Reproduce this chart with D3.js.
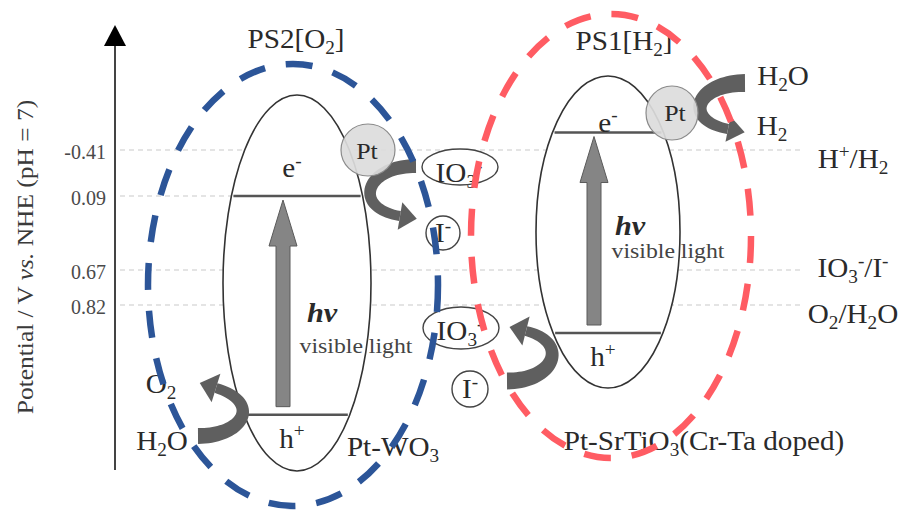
<!DOCTYPE html>
<html><head><meta charset="utf-8">
<script src="https://cdn.jsdelivr.net/npm/d3@7"></script>
<style>html,body{margin:0;padding:0;background:#fff;} svg{display:block;}</style>
</head><body>
<svg id="chart" width="903" height="514"></svg>
<script>
// ---------- data ----------
const potentialTicks = [-0.41, 0.09, 0.67, 0.82];
const tickLabels = ["-0.41", "0.09", "0.67", "0.82"];
const redoxLabels = ["H^{+}/H_{2}", "IO_{3}^{-}/I^{-}", "O_{2}/H_{2}O"];
const redoxPotentials = [-0.41, 0.67, 0.82];
const photosystemNames = ["PS2[O_{2}]", "PS1[H_{2}]"];
const catalystNames = ["Pt-WO_{3}", "Pt-SrTiO_{3}(Cr-Ta doped)"];
const conductionBand = [0.09, -0.60];
const valenceBand = [1.29, 0.94];
const mediatorLabels = ["IO_{3}^{-}", "I^{-}", "IO_{3}^{-}", "I^{-}"];
const reactionLabels = ["O_{2}", "H_{2}O", "H_{2}O", "H_{2}"];
const axisTitle = "Potential / V *vs.* NHE (pH = 7)";

// ---------- setup ----------
const svg = d3.select("#chart");
const FONT = "'Liberation Serif','Times New Roman',serif";
const SX = 1.08;
const y = d3.scaleLinear().domain(potentialTicks).range([150, 196, 270, 305]);

function rich(t, str, fs) {
  const re = /(_\{[^}]*\}|\^\{[^}]*\}|\*[^*]*\*)/g;
  const parts = str.split(re).filter(s => s && s.length);
  let cur = 0;
  parts.forEach(p => {
    let kind = 0, txt = p, ital = false;
    if (p.startsWith("_{")) { kind = 1; txt = p.slice(2, -1); }
    else if (p.startsWith("^{")) { kind = 2; txt = p.slice(2, -1); }
    else if (p.startsWith("*")) { ital = true; txt = p.slice(1, -1); }
    const target = kind === 1 ? 0.22 * fs : kind === 2 ? -0.38 * fs : 0;
    const ts = t.append("tspan").text(txt).attr("dy", target - cur);
    if (kind) ts.style("font-size", (0.66 * fs) + "px");
    if (ital) ts.style("font-style", "italic");
    cur = target;
  });
}
function label(g, px, py, str, fs, o = {}) {
  const t = g.append("text")
    .attr("transform", `translate(${px},${py}) ${o.rot ? "rotate(" + o.rot + ")" : ""} scale(${o.sx || SX},1)`)
    .attr("text-anchor", o.anchor || "middle")
    .style("font-family", FONT).style("font-size", fs + "px")
    .attr("fill", o.color || "#2a2a2a");
  if (o.italic) t.style("font-style", "italic");
  if (o.bold) t.style("font-weight", "bold");
  rich(t, str, fs);
  return t;
}
function bez(p0, c1, c2, p3, t) {
  const u = 1 - t;
  return [u*u*u*p0[0] + 3*u*u*t*c1[0] + 3*u*t*t*c2[0] + t*t*t*p3[0],
          u*u*u*p0[1] + 3*u*u*t*c1[1] + 3*u*t*t*c2[1] + t*t*t*p3[1]];
}
function curvedArrow(g, p0, c1, c2, p3, w0, w1, headLen, headW, color) {
  const N = 40, L = [], R = [];
  for (let i = 0; i <= N; i++) {
    const t = i / N;
    const a = bez(p0, c1, c2, p3, Math.max(0, t - 0.01)), b = bez(p0, c1, c2, p3, Math.min(1, t + 0.01));
    let dx = b[0] - a[0], dy = b[1] - a[1]; const l = Math.hypot(dx, dy); dx /= l; dy /= l;
    const p = bez(p0, c1, c2, p3, t), w = (w0 + (w1 - w0) * t) / 2;
    L.push([p[0] - dy * w, p[1] + dx * w]); R.push([p[0] + dy * w, p[1] - dx * w]);
  }
  const pts = L.concat(R.reverse());
  g.append("path").attr("d", d3.line()(pts) + "Z").attr("fill", color);
  let dx = p3[0] - c2[0], dy = p3[1] - c2[1]; const l = Math.hypot(dx, dy); dx /= l; dy /= l;
  const tip = [p3[0] + dx * headLen, p3[1] + dy * headLen];
  const b1 = [p3[0] - dy * headW / 2, p3[1] + dx * headW / 2];
  const b2 = [p3[0] + dy * headW / 2, p3[1] - dx * headW / 2];
  g.append("path").attr("d", d3.line()([b1, tip, b2]) + "Z").attr("fill", color);
}

// ---------- layout (positions only) ----------
const layout = [
  { cx: 297, cy: 283, rx: 74, ry: 188, title: [296, 48], cat: [393, 456], eDx: -5, eDy: -19,
    hv: [322, 322], vis: [356, 353], pt: [368, 150, 27, 26], ptTxt: [367, 159],
    ring: { cx: 293, cy: 285, rx: 145, ry: 221, color: "#2c5598" } },
  { cx: 608, cy: 232, rx: 72, ry: 156, title: [624, 50], cat: [704, 450], eDx: 0, eDy: -1,
    hv: [630, 235], vis: [668, 258], pt: [672, 113, 26, 27], ptTxt: [675, 121],
    ring: { cx: 611, cy: 236, rx: 140, ry: 222, color: "#ff5c63" } }
];
const chord = (ps, yy) => { const d = (yy - ps.cy) / ps.ry; return ps.rx * Math.sqrt(Math.max(0, 1 - d * d)); };

// ---------- gridlines ----------
const grid = svg.append("g");
potentialTicks.forEach((v, i) => {
  grid.append("line").attr("x1", 120).attr("x2", i === 1 ? layout[0].cx : 800)
    .attr("y1", y(v)).attr("y2", y(v))
    .attr("stroke", "#c9c9c9").attr("stroke-width", 1).attr("stroke-dasharray", "5,4");
});

// ---------- axis ----------
const axisG = svg.append("g").attr("transform", "translate(115,0)")
  .call(d3.axisLeft(y).tickValues(potentialTicks).tickFormat((d, i) => tickLabels[i]).tickSize(0).tickPadding(9));
axisG.select(".domain").remove();
axisG.selectAll("text").style("font-family", FONT).style("font-size", "20px").attr("fill", "#4a4a4a").attr("dy", "0.42em");
svg.append("line").attr("x1", 115).attr("x2", 115).attr("y1", 44).attr("y2", 470).attr("stroke", "#444").attr("stroke-width", 2);
svg.append("path").attr("d", "M115,25L104,46L126,46Z").attr("fill", "#000");
label(svg, 33, 257, axisTitle, 24, { rot: -90, sx: 1.06, color: "#3a3a3a" });

// ---------- redox labels ----------
const redoxDy = [18, 7, 18];
redoxLabels.forEach((s, i) => label(svg, 853, y(redoxPotentials[i]) + redoxDy[i], s, 27));

// ---------- photosystems ----------
layout.forEach((ps, i) => {
  const g = svg.append("g");
  g.append("ellipse").attr("cx", ps.cx).attr("cy", ps.cy).attr("rx", ps.rx).attr("ry", ps.ry)
    .attr("fill", "#fff").attr("stroke", "#333").attr("stroke-width", 1.6);
  const yc = y(conductionBand[i]), yv = y(valenceBand[i]);
  [yc, yv].forEach(yy => {
    const h = chord(ps, yy) - 2;
    g.append("line").attr("x1", ps.cx - h).attr("x2", ps.cx + h).attr("y1", yy).attr("y2", yy)
      .attr("stroke", "#555").attr("stroke-width", 2.5);
  });
  const ax = ps.cx - 14, tip = yc + 4, headB = tip + 46, bot = yv - 8;
  g.append("path").attr("d", `M${ax},${tip}L${ax - 14},${headB}L${ax - 7},${headB}L${ax - 7},${bot}L${ax + 7},${bot}L${ax + 7},${headB}L${ax + 14},${headB}Z`)
    .attr("fill", "#858585").attr("stroke", "#5a5a5a").attr("stroke-width", 1);
  label(g, ps.cx + ps.eDx, yc + ps.eDy, "e^{-}", 27);
  label(g, ps.cx - 5, yv + 33, "h^{+}", 27);
  label(g, ps.hv[0], ps.hv[1], "hν", 28, { italic: true, bold: true });
  label(g, ps.vis[0], ps.vis[1], "visible light", 22, { color: "#444" });
  label(svg, ps.title[0], ps.title[1], photosystemNames[i], 27);
  label(svg, ps.cat[0], ps.cat[1], catalystNames[i], 27);
});

// ---------- curved arrows ----------
const ARC = "#5f5f5f";
curvedArrow(svg, [416, 166], [365, 166], [352, 208], [400, 216], 14, 10, 17, 28, ARC);
curvedArrow(svg, [198, 436], [244, 436], [262, 402], [216, 388], 16, 10, 17, 30, ARC);
curvedArrow(svg, [507, 381], [555, 381], [570, 342], [526, 331], 17, 10, 17, 30, ARC);
curvedArrow(svg, [745, 83], [696, 83], [682, 120], [728, 129], 18, 10, 17, 26, ARC);

// ---------- Pt co-catalysts ----------
layout.forEach(ps => {
  svg.append("ellipse").attr("cx", ps.pt[0]).attr("cy", ps.pt[1]).attr("rx", ps.pt[2]).attr("ry", ps.pt[3])
    .attr("fill", "#dcdcdc").attr("fill-opacity", 0.92).attr("stroke", "#8a8a8a").attr("stroke-width", 1.2);
  label(svg, ps.ptTxt[0], ps.ptTxt[1], "Pt", 24);
});

// ---------- mediators ----------
const medShapes = [[460, 167, 38, 18], [443, 233, 17, 17], [461, 328, 38, 21], [470, 389, 18, 18]];
const medText = [[459, 182], [443, 242], [460, 340], [470, 398]];
mediatorLabels.forEach((s, i) => {
  const m = medShapes[i];
  svg.append("ellipse").attr("cx", m[0]).attr("cy", m[1]).attr("rx", m[2]).attr("ry", m[3])
    .attr("fill", "#fff").attr("stroke", "#444").attr("stroke-width", 1.4);
  label(svg, medText[i][0], medText[i][1], s, 27);
});

// ---------- reactants / products ----------
const reactPos = [[161, 393], [162, 450], [783, 85], [772, 135]];
reactionLabels.forEach((s, i) => label(svg, reactPos[i][0], reactPos[i][1], s, 27));

// ---------- dashed rings ----------
layout.forEach(ps => {
  const r = ps.ring;
  svg.append("ellipse").attr("cx", r.cx).attr("cy", r.cy).attr("rx", r.rx).attr("ry", r.ry)
    .attr("fill", "none").attr("stroke", r.color).attr("stroke-width", 6.5).attr("stroke-dasharray", "27,21");
});
</script>
</body></html>
